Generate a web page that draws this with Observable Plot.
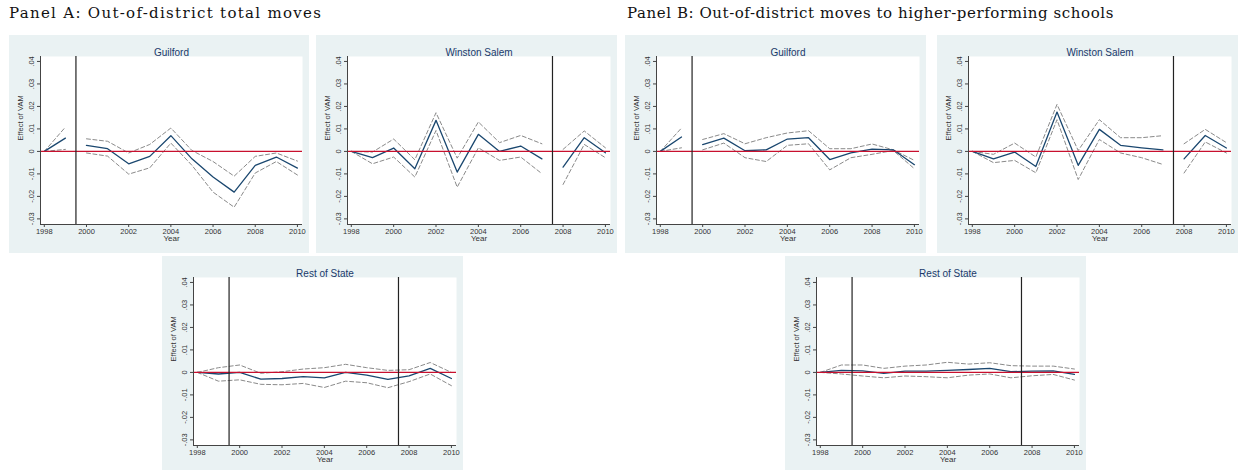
<!DOCTYPE html>
<html><head><meta charset="utf-8">
<script src="https://cdn.jsdelivr.net/npm/d3@7"></script>
<script src="https://cdn.jsdelivr.net/npm/@observablehq/plot@0.6"></script>
<style>
body{margin:0;background:#fff;}
#wrap{position:relative;width:1241px;height:470px;overflow:hidden;background:#fff;}
.hdr{position:absolute;font-family:"DejaVu Serif",serif;font-size:15px;color:#111;white-space:nowrap;}
.pan{position:absolute;}
.pan svg{display:block;}
</style></head><body><div id="wrap"></div>
<script>
const years = [1998,1999,2000,2001,2002,2003,2004,2005,2006,2007,2008,2009,2010];
const xTicks = [1998,2000,2002,2004,2006,2008,2010];
const yTicks = [-0.03,-0.02,-0.01,0,0.01,0.02,0.03,0.04];
const headings = ["Panel A: Out-of-district total moves", "Panel B: Out-of-district moves to higher-performing schools"];
const regions = ["Guilford", "Winston Salem", "Rest of State"];
const refLines = {"Guilford": [1999.5], "Winston Salem": [2007.5], "Rest of State": [1999.5, 2007.5]};
const gapAfter = {"Guilford": 1999, "Winston Salem": 2007, "Rest of State": null};

// Panel A: total moves
const aGuilfordEst = [0,0.0059,0.0027,0.0012,-0.0055,-0.0022,0.0070,-0.0033,-0.0114,-0.0181,-0.0062,-0.0025,-0.0074];
const aGuilfordHi  = [0,0.0108,0.0056,0.0045,-0.0007,0.0031,0.0104,0.0004,-0.0045,-0.0110,-0.0022,-0.0007,-0.0043];
const aGuilfordLo  = [0,0.0009,-0.0007,-0.0021,-0.0101,-0.0073,0.0037,-0.0062,-0.0181,-0.0248,-0.0096,-0.0045,-0.0105];
const aWinstonEst = [0,-0.0028,0.0015,-0.0077,0.0138,-0.0092,0.0076,0.0000,0.0024,-0.0033,-0.0070,0.0061,-0.0006];
const aWinstonHi  = [0,-0.0003,0.0055,-0.0037,0.0172,-0.0030,0.0131,0.0039,0.0071,0.0034,0.0009,0.0091,0.0016];
const aWinstonLo  = [0,-0.0055,-0.0025,-0.0114,0.0093,-0.0159,0.0016,-0.0040,-0.0025,-0.0099,-0.0147,0.0031,-0.0028];
const aRestEst = [0,-0.0007,0.0000,-0.0030,-0.0027,-0.0019,-0.0024,0.0000,-0.0012,-0.0031,-0.0015,0.0018,-0.0027];
const aRestHi  = [0,0.0021,0.0033,-0.0004,0.0003,0.0015,0.0021,0.0036,0.0021,0.0009,0.0012,0.0044,0.0000];
const aRestLo  = [0,-0.0039,-0.0033,-0.0053,-0.0055,-0.0049,-0.0067,-0.0039,-0.0046,-0.0068,-0.0041,-0.0007,-0.0059];

// Panel B: moves to higher-performing schools
const bGuilfordEst = [0,0.0064,0.0030,0.0059,0.0003,0.0007,0.0055,0.0061,-0.0036,-0.0007,0.0010,0.0007,-0.0059];
const bGuilfordHi  = [0,0.0104,0.0053,0.0079,0.0034,0.0061,0.0082,0.0092,0.0012,0.0012,0.0033,0.0007,-0.0040];
const bGuilfordLo  = [0,0.0016,0.0007,0.0037,-0.0028,-0.0045,0.0027,0.0034,-0.0082,-0.0028,-0.0013,0.0004,-0.0077];
const bWinstonEst = [0,-0.0033,-0.0003,-0.0067,0.0175,-0.0062,0.0098,0.0027,0.0016,0.0007,-0.0033,0.0071,0.0015];
const bWinstonHi  = [0,-0.0013,0.0037,-0.0025,0.0209,0.0004,0.0141,0.0061,0.0061,0.0070,0.0034,0.0098,0.0039];
const bWinstonLo  = [0,-0.0050,-0.0040,-0.0095,0.0141,-0.0125,0.0053,-0.0007,-0.0028,-0.0058,-0.0096,0.0042,-0.0007];
const bRestEst = [0,0.0009,0.0007,-0.0004,0.0006,0.0006,0.0009,0.0013,0.0018,0.0003,0.0006,0.0007,-0.0009];
const bRestHi  = [0,0.0033,0.0033,0.0018,0.0028,0.0033,0.0045,0.0037,0.0043,0.0030,0.0028,0.0028,0.0015];
const bRestLo  = [0,-0.0007,-0.0016,-0.0024,-0.0016,-0.0019,-0.0024,-0.0012,-0.0007,-0.0024,-0.0015,-0.0009,-0.0034];

const panels = [
  {region: "Guilford", est: aGuilfordEst, hi: aGuilfordHi, lo: aGuilfordLo, left: 9, top: 35, w: 300, h: 218},
  {region: "Winston Salem", est: aWinstonEst, hi: aWinstonHi, lo: aWinstonLo, left: 316, top: 35, w: 301, h: 218},
  {region: "Guilford", est: bGuilfordEst, hi: bGuilfordHi, lo: bGuilfordLo, left: 625, top: 35, w: 301, h: 218},
  {region: "Winston Salem", est: bWinstonEst, hi: bWinstonHi, lo: bWinstonLo, left: 937, top: 35, w: 301, h: 218},
  {region: "Rest of State", est: aRestEst, hi: aRestHi, lo: aRestLo, left: 162, top: 256, w: 301, h: 214},
  {region: "Rest of State", est: bRestEst, hi: bRestHi, lo: bRestLo, left: 785, top: 256, w: 301, h: 214}
];

const wrap = document.getElementById("wrap");
[[headings[0], 9, 4, 1.3], [headings[1], 627, 4, 0.57]].forEach(([t, x, y, ls]) => {
  const d = document.createElement("div");
  d.className = "hdr"; d.textContent = t;
  d.style.left = x + "px"; d.style.top = y + "px"; d.style.letterSpacing = ls + "px";
  wrap.appendChild(d);
});

const xDomain = [1997.82, 2010.24];
const yDomain = [-0.0325, 0.0422];
const fmtY = d => d === 0 ? "0" : d.toFixed(2).replace("0.", ".");
const navy = "#1a476f", red = "#c8102e", grey = "#8a8a8a", ink = "#333";

panels.forEach(p => {
  const g = gapAfter[p.region];
  const rows = years.map((yr, i) => ({year: yr, est: p.est[i], hi: p.hi[i], lo: p.lo[i], seg: g == null ? 0 : (yr > g ? 1 : 0)}));
  const chart = Plot.plot({
    width: p.w, height: p.h,
    marginLeft: 31, marginRight: 7, marginTop: 21, marginBottom: p.h - 218 + 29,
    style: {background: "#eaf2f3", fontFamily: "'Liberation Sans', Arial, sans-serif", color: ink, overflow: "visible"},
    x: {domain: xDomain},
    y: {domain: yDomain},
    marks: [
      Plot.frame({fill: "white"}),
      Plot.line(rows, {x: "year", y: "hi", z: "seg", stroke: grey, strokeWidth: 1, strokeDasharray: "4,2.5"}),
      Plot.line(rows, {x: "year", y: "lo", z: "seg", stroke: grey, strokeWidth: 1, strokeDasharray: "4,2.5"}),
      Plot.line(rows, {x: "year", y: "est", z: "seg", stroke: navy, strokeWidth: 1.3}),
      Plot.ruleY([0], {stroke: red, strokeWidth: 1.3}),
      Plot.ruleX(refLines[p.region], {stroke: "#222", strokeWidth: 1.2}),
      Plot.ruleX([xDomain[0]], {stroke: "#444", strokeWidth: 1}),
      Plot.ruleY([yDomain[0]], {stroke: "#444", strokeWidth: 1}),
      Plot.axisY({ticks: yTicks, tickFormat: fmtY, tickSize: 3, tickPadding: 4, tickRotate: -90, fontSize: 7.5, label: null, stroke: "#444"}),
      Plot.axisX({ticks: xTicks, tickFormat: d => String(d), tickSize: 3, tickPadding: 1, fontSize: 7.5, label: null, stroke: "#444"}),
      Plot.text(["Effect of VAM"], {frameAnchor: "left", dx: -20, rotate: -90, fontSize: 7.5, fill: ink}),
      Plot.text(["Year"], {frameAnchor: "bottom", dy: 16, fontSize: 8, fill: ink}),
      Plot.text([p.region], {frameAnchor: "top", dy: -8, fontSize: 10, fill: "#1a3a6b"})
    ]
  });
  const holder = document.createElement("div");
  holder.className = "pan";
  holder.style.left = p.left + "px"; holder.style.top = p.top + "px";
  holder.appendChild(chart);
  wrap.appendChild(holder);
});
</script></body></html>
